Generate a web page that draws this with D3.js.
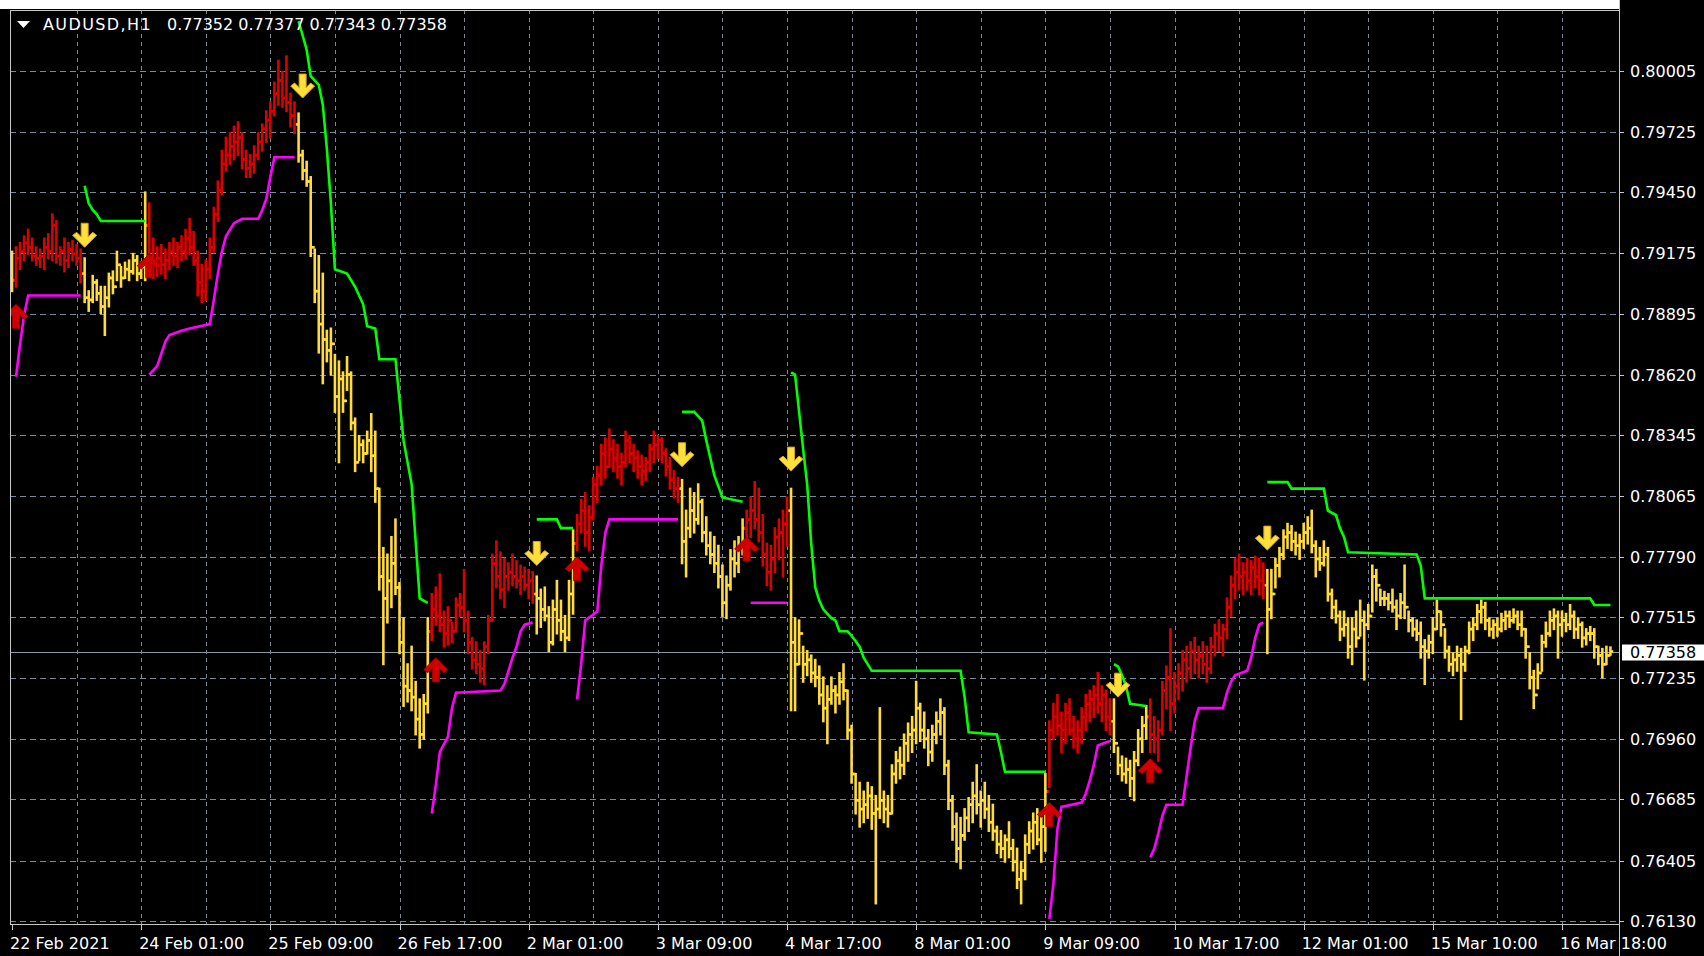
<!doctype html>
<html>
<head>
<meta charset="utf-8">
<script src="https://cdnjs.cloudflare.com/ajax/libs/d3/7.8.5/d3.min.js"></script>
<style>
  html, body { margin: 0; padding: 0; background: #000; }
  svg { display: block; }
  text { font-family: "DejaVu Sans", sans-serif; font-size: 16px; fill: #fff; }
</style>
</head>
<body>
<svg id="chart" width="1704" height="956"></svg>
<script>
// price grid / axis labels
const priceTicks = [0.80005, 0.79725, 0.79450, 0.79175, 0.78895, 0.78620, 0.78345,
  0.78065, 0.77790, 0.77515, 0.77235, 0.76960, 0.76685, 0.76405, 0.76130]
// time labels, one every 32 H1 bars
const timeLabels = ["22 Feb 2021", "24 Feb 01:00", "25 Feb 09:00", "26 Feb 17:00", "2 Mar 01:00",
  "3 Mar 09:00", "4 Mar 17:00", "8 Mar 01:00", "9 Mar 09:00", "10 Mar 17:00", "12 Mar 01:00",
  "15 Mar 10:00", "16 Mar 18:00"]
const lastQuote = [0.77352, 0.77377, 0.77343, 0.77358]

// H1 bars, left to right
const highs = [
  0.7918,0.7920,0.7922,0.7925,0.7928,0.7924,0.7920,0.7919,0.7924,0.7926,
  0.7935,0.7932,0.7920,0.7924,0.7922,0.7923,0.7921,0.7919,0.7915,0.7900,
  0.7907,0.7905,0.7902,0.7902,0.7908,0.7909,0.7918,0.7911,0.7913,0.7914,
  0.7917,0.7916,0.7913,0.7945,0.7940,0.7924,0.7920,0.7921,0.7919,0.7922,
  0.7924,0.7922,0.7925,0.7928,0.7933,0.7927,0.7918,0.7912,0.7914,0.7924,
  0.7938,0.7950,0.7964,0.7970,0.7972,0.7975,0.7977,0.7972,0.7964,0.7962,
  0.7966,0.7972,0.7976,0.7982,0.7986,0.7995,0.8005,0.8000,0.8007,0.7990,
  0.7986,0.7981,0.7964,0.7959,0.7952,0.7919,0.7916,0.7908,0.7882,0.7883,
  0.7871,0.7868,0.7863,0.7870,0.7863,0.7842,0.7834,0.7832,0.7836,0.7844,
  0.7836,0.7810,0.7783,0.7780,0.7788,0.7796,0.7767,0.7751,0.7730,0.7738,
  0.7722,0.7714,0.7716,0.7751,0.7762,0.7765,0.7771,0.7754,0.7756,0.7749,
  0.7760,0.7762,0.7773,0.7754,0.7742,0.7740,0.7736,0.7740,0.7752,0.7780,
  0.7786,0.7781,0.7778,0.7776,0.7780,0.7777,0.7775,0.7774,0.7773,0.7772,
  0.7770,0.7764,0.7765,0.7756,0.7759,0.7768,0.7759,0.7752,0.7768,0.7791,
  0.7798,0.7805,0.7808,0.7802,0.7815,0.7820,0.7830,0.7833,0.7837,0.7832,
  0.7830,0.7826,0.7836,0.7834,0.7830,0.7827,0.7825,0.7824,0.7830,0.7836,
  0.7834,0.7833,0.7828,0.7824,0.7818,0.7815,0.7814,0.7800,0.7810,0.7808,
  0.7812,0.7805,0.7797,0.7790,0.7788,0.7784,0.7775,0.7770,0.7782,0.7786,
  0.7788,0.7796,0.7800,0.7806,0.7813,0.7810,0.7798,0.7785,0.7784,0.7792,
  0.7796,0.7800,0.7806,0.7810,0.7751,0.7750,0.7738,0.7736,0.7734,0.7732,
  0.7729,0.7724,0.7720,0.7724,0.7720,0.7726,0.7730,0.7718,0.7702,0.7680,
  0.7676,0.7672,0.7676,0.7674,0.7670,0.7710,0.7672,0.7670,0.7684,0.7690,
  0.7692,0.7698,0.7703,0.7706,0.7722,0.7712,0.7708,0.7700,0.7702,0.7708,
  0.7714,0.7710,0.7686,0.7670,0.7662,0.7660,0.7664,0.7669,0.7676,0.7684,
  0.7672,0.7676,0.7670,0.7666,0.7656,0.7654,0.7652,0.7658,0.7650,0.7646,
  0.7640,0.7652,0.7658,0.7662,0.7664,0.7660,0.7680,0.7704,0.7712,0.7716,
  0.7708,0.7712,0.7714,0.7706,0.7704,0.7710,0.7716,0.7718,0.7720,0.7726,
  0.7720,0.7718,0.7714,0.7714,0.7692,0.7688,0.7687,0.7686,0.7690,0.7700,
  0.7706,0.7711,0.7714,0.7706,0.7704,0.7722,0.7729,0.7746,0.7726,0.7730,
  0.7736,0.7738,0.7740,0.7742,0.7738,0.7740,0.7738,0.7742,0.7748,0.7750,
  0.7748,0.7760,0.7770,0.7778,0.7780,0.7776,0.7778,0.7777,0.7779,0.7778,
  0.7776,0.7773,0.7773,0.7778,0.7783,0.7791,0.7794,0.7793,0.7790,0.7789,
  0.7794,0.7797,0.7800,0.7786,0.7783,0.7786,0.7783,0.7764,0.7759,0.7754,
  0.7754,0.7751,0.7751,0.7754,0.7759,0.7754,0.7757,0.7775,0.7773,0.7764,
  0.7763,0.7762,0.7764,0.7759,0.7762,0.7775,0.7754,0.7751,0.7750,0.7749,
  0.7741,0.7743,0.7751,0.7759,0.7754,0.7746,0.7738,0.7735,0.7738,0.7737,
  0.7738,0.7749,0.7751,0.7757,0.7759,0.7758,0.7751,0.7750,0.7751,0.7753,
  0.7754,0.7754,0.7755,0.7754,0.7754,0.7746,0.7735,0.7727,0.7730,0.7743,
  0.7749,0.7754,0.7755,0.7754,0.7754,0.7753,0.7757,0.7754,0.7751,0.7749,
  0.7746,0.7747,0.7746,0.7738,0.7737,0.7738,0.77377]
const lows = [
  0.7900,0.7902,0.7910,0.7914,0.7917,0.7914,0.7912,0.7911,0.7910,0.7915,
  0.7914,0.7913,0.7912,0.7909,0.7911,0.7914,0.7912,0.7904,0.7895,0.7891,
  0.7895,0.7896,0.7890,0.7880,0.7893,0.7899,0.7905,0.7902,0.7906,0.7905,
  0.7908,0.7905,0.7906,0.7905,0.7910,0.7906,0.7907,0.7908,0.7906,0.7910,
  0.7912,0.7911,0.7914,0.7915,0.7917,0.7912,0.7898,0.7895,0.7896,0.7906,
  0.7918,0.7932,0.7944,0.7955,0.7958,0.7960,0.7962,0.7956,0.7952,0.7952,
  0.7954,0.7960,0.7964,0.7968,0.7970,0.7980,0.7985,0.7984,0.7982,0.7975,
  0.7972,0.7959,0.7951,0.7948,0.7916,0.7895,0.7872,0.7858,0.7868,0.7862,
  0.7845,0.7822,0.7845,0.7855,0.7837,0.7818,0.7823,0.7822,0.7826,0.7818,
  0.7804,0.7764,0.7730,0.7749,0.7756,0.7762,0.7735,0.7711,0.7713,0.7709,
  0.7698,0.7692,0.7696,0.7708,0.7741,0.7748,0.7745,0.7738,0.7739,0.7740,
  0.7745,0.7752,0.7745,0.7735,0.7728,0.7726,0.7722,0.7721,0.7735,0.7750,
  0.7765,0.7760,0.7756,0.7764,0.7766,0.7765,0.7762,0.7764,0.7760,0.7758,
  0.7744,0.7747,0.7750,0.7736,0.7739,0.7744,0.7741,0.7736,0.7741,0.7753,
  0.7782,0.7790,0.7784,0.7782,0.7796,0.7804,0.7812,0.7815,0.7820,0.7818,
  0.7815,0.7812,0.7820,0.7822,0.7818,0.7815,0.7812,0.7814,0.7818,0.7822,
  0.7824,0.7822,0.7816,0.7810,0.7806,0.7804,0.7776,0.7770,0.7788,0.7790,
  0.7794,0.7786,0.7780,0.7776,0.7772,0.7765,0.7752,0.7751,0.7764,0.7770,
  0.7772,0.7780,0.7782,0.7788,0.7792,0.7786,0.7775,0.7766,0.7764,0.7772,
  0.7778,0.7770,0.7784,0.7709,0.7709,0.7730,0.7722,0.7725,0.7722,0.7720,
  0.7712,0.7704,0.7694,0.7712,0.7708,0.7712,0.7714,0.7696,0.7676,0.7662,
  0.7656,0.7658,0.7660,0.7655,0.7621,0.7660,0.7658,0.7656,0.7662,0.7676,
  0.7678,0.7680,0.7686,0.7690,0.7694,0.7695,0.7692,0.7684,0.7686,0.7694,
  0.7698,0.7680,0.7664,0.7650,0.7640,0.7637,0.7650,0.7654,0.7658,0.7662,
  0.7656,0.7660,0.7654,0.7650,0.7644,0.7642,0.7640,0.7642,0.7636,0.7628,
  0.7621,0.7632,0.7644,0.7646,0.7648,0.7640,0.7645,0.7674,0.7696,0.7698,
  0.7690,0.7694,0.7698,0.7692,0.7690,0.7694,0.7700,0.7704,0.7706,0.7708,
  0.7704,0.7700,0.7698,0.7690,0.7680,0.7677,0.7676,0.7670,0.7668,0.7684,
  0.7690,0.7696,0.7690,0.7690,0.7686,0.7698,0.7710,0.7700,0.7708,0.7714,
  0.7718,0.7722,0.7724,0.7726,0.7724,0.7726,0.7722,0.7726,0.7734,0.7736,
  0.7734,0.7742,0.7752,0.7760,0.7764,0.7762,0.7764,0.7762,0.7765,0.7762,
  0.7760,0.7735,0.7751,0.7765,0.7770,0.7778,0.7783,0.7782,0.7780,0.7778,
  0.7783,0.7785,0.7781,0.7770,0.7773,0.7775,0.7759,0.7751,0.7749,0.7741,
  0.7743,0.7733,0.7730,0.7738,0.7743,0.7723,0.7746,0.7754,0.7759,0.7757,
  0.7757,0.7755,0.7754,0.7746,0.7751,0.7751,0.7745,0.7743,0.7741,0.7733,
  0.7721,0.7733,0.7735,0.7746,0.7743,0.7733,0.7727,0.7725,0.7727,0.7705,
  0.7727,0.7735,0.7741,0.7746,0.7749,0.7746,0.7743,0.7742,0.7743,0.7745,
  0.7746,0.7747,0.7749,0.7746,0.7743,0.7733,0.7719,0.7710,0.7719,0.7727,
  0.7738,0.7743,0.7746,0.7733,0.7743,0.7745,0.7746,0.7742,0.7742,0.7738,
  0.7739,0.7741,0.7733,0.7730,0.7724,0.7730,0.77343]
const closes = [
  0.7905,0.7915,0.7918,0.7922,0.7920,0.7916,0.7915,0.7916,0.7920,0.7918,
  0.7930,0.7916,0.7918,0.7914,0.7919,0.7917,0.7915,0.7908,0.7897,0.7896,
  0.7904,0.7899,0.7893,0.7897,0.7906,0.7902,0.7912,0.7906,0.7910,0.7909,
  0.7914,0.7908,0.7911,0.7930,0.7915,0.7912,0.7915,0.7912,0.7914,0.7918,
  0.7916,0.7920,0.7918,0.7924,0.7920,0.7914,0.7904,0.7900,0.7910,0.7920,
  0.7935,0.7946,0.7958,0.7962,0.7966,0.7968,0.7970,0.7960,0.7956,0.7958,
  0.7962,0.7968,0.7974,0.7978,0.7982,0.7990,0.7996,0.7988,0.7986,0.7980,
  0.7976,0.7962,0.7955,0.7950,0.7920,0.7900,0.7885,0.7878,0.7873,0.7876,
  0.7852,0.7860,0.7850,0.7862,0.7840,0.7822,0.7830,0.7826,0.7832,0.7825,
  0.7810,0.7770,0.7760,0.7768,0.7776,0.7765,0.7740,0.7720,0.7718,0.7715,
  0.7705,0.7698,0.7712,0.7745,0.7755,0.7752,0.7748,0.7744,0.7750,0.7745,
  0.7757,0.7756,0.7750,0.7740,0.7732,0.7730,0.7728,0.7738,0.7750,0.7776,
  0.7770,0.7764,0.7770,0.7772,0.7770,0.7768,0.7770,0.7766,0.7768,0.7762,
  0.7760,0.7755,0.7752,0.7740,0.7755,0.7750,0.7745,0.7742,0.7762,0.7785,
  0.7794,0.7800,0.7790,0.7797,0.7812,0.7816,0.7826,0.7820,0.7828,0.7824,
  0.7820,0.7822,0.7832,0.7826,0.7824,0.7820,0.7818,0.7822,0.7828,0.7830,
  0.7832,0.7826,0.7820,0.7814,0.7810,0.7810,0.7786,0.7792,0.7800,0.7796,
  0.7804,0.7790,0.7784,0.7780,0.7776,0.7770,0.7758,0.7766,0.7778,0.7776,
  0.7784,0.7792,0.7796,0.7800,0.7796,0.7790,0.7780,0.7772,0.7778,0.7788,
  0.7790,0.7794,0.7800,0.7740,0.7730,0.7744,0.7730,0.7732,0.7726,0.7724,
  0.7716,0.7710,0.7714,0.7718,0.7716,0.7722,0.7718,0.7700,0.7680,0.7668,
  0.7664,0.7666,0.7670,0.7662,0.7664,0.7668,0.7664,0.7662,0.7680,0.7686,
  0.7684,0.7694,0.7698,0.7700,0.7710,0.7700,0.7696,0.7690,0.7698,0.7704,
  0.7708,0.7684,0.7668,0.7656,0.7646,0.7652,0.7660,0.7666,0.7670,0.7666,
  0.7668,0.7664,0.7658,0.7654,0.7648,0.7646,0.7650,0.7646,0.7640,0.7632,
  0.7636,0.7648,0.7654,0.7658,0.7650,0.7656,0.7672,0.7700,0.7706,0.7702,
  0.7700,0.7708,0.7700,0.7696,0.7700,0.7706,0.7712,0.7714,0.7716,0.7712,
  0.7716,0.7706,0.7704,0.7694,0.7684,0.7680,0.7682,0.7678,0.7686,0.7696,
  0.7702,0.7706,0.7698,0.7696,0.7700,0.7718,0.7724,0.7712,0.7720,0.7726,
  0.7732,0.7728,0.7736,0.7732,0.7734,0.7730,0.7728,0.7738,0.7744,0.7742,
  0.7746,0.7756,0.7766,0.7772,0.7770,0.7772,0.7768,0.7774,0.7770,0.7768,
  0.7766,0.7755,0.7762,0.7775,0.7780,0.7788,0.7790,0.7786,0.7784,0.7786,
  0.7790,0.7792,0.7784,0.7778,0.7776,0.7780,0.7762,0.7756,0.7752,0.7746,
  0.7748,0.7738,0.7746,0.7742,0.7750,0.7748,0.7752,0.7770,0.7766,0.7760,
  0.7760,0.7758,0.7756,0.7752,0.7758,0.7756,0.7750,0.7746,0.7744,0.7738,
  0.7736,0.7740,0.7746,0.7754,0.7748,0.7736,0.7730,0.7732,0.7734,0.7730,
  0.7736,0.7746,0.7748,0.7754,0.7756,0.7750,0.7746,0.7748,0.7746,0.7750,
  0.7752,0.7750,0.7752,0.7748,0.7746,0.7738,0.7724,0.7716,0.7726,0.7740,
  0.7744,0.7750,0.7752,0.7748,0.7750,0.7748,0.7752,0.7746,0.7748,0.7742,
  0.7744,0.7744,0.7738,0.7734,0.7730,0.7734,0.77358]

// bar ranges where the indicator is in up trend (red bars); others are down (yellow)
const upTrendRanges = [[1, 17], [34, 70], [104, 129], [140, 165], [182, 192], [257, 272], [282, 310]]

// upper trailing stop (green) pieces: [bar, price]
const greenSegments = [
  [[18,0.7948],[19,0.7940],[20,0.7937],[21,0.7935],[22,0.7932],[33,0.7932]],
  [[71,0.8023],[73,0.8010],[74,0.7998],[76,0.7994],[77,0.7985],[78,0.7965],[79,0.7940],[80,0.7910],
   [83,0.7908],[85,0.7902],[87,0.7894],[88,0.7884],[90,0.7883],[91,0.7869],[95,0.7869],[97,0.7832],
   [99,0.7812],[101,0.7760],[103,0.7758]],
  [[130,0.7796],[135,0.7796],[136,0.7792],[139,0.7792]],
  [[166,0.7845],[169,0.7845],[171,0.7841],[172,0.7832],[173,0.7824],[174,0.7816],[176,0.7806],[181,0.7804]],
  [[193,0.7863],[194,0.7862],[195,0.7845],[196,0.7828],[197,0.7812],[198,0.7785],[199,0.7765],[200,0.7759],
   [201,0.7755],[203,0.7751],[204,0.7750],[205,0.7745],[207,0.7745],[208,0.7743],[210,0.7738],[211,0.7733],
   [213,0.7727],[235,0.7727],[236,0.7715],[237,0.7699],[244,0.7698],[245,0.7690],[246,0.7681],[256,0.7681]],
  [[273,0.7730],[274,0.7729],[275,0.7725],[276,0.7720],[277,0.7712],[281,0.7711]],
  [[311,0.7813],[316,0.7813],[317,0.7810],[325,0.7810],[326,0.7800],[328,0.7798],[329,0.7792],[330,0.7788],
   [331,0.7781],[348,0.7780],[349,0.7775],[350,0.7760],[391,0.7760],[392,0.7757],[396,0.7757]]
]
// lower trailing stop (magenta) pieces: [bar, price]
const magentaSegments = [
  [[1,0.7861],[2,0.7876],[3,0.7889],[4,0.7898],[17,0.7898]],
  [[34,0.7862],[36,0.7866],[38,0.7877],[39,0.7880],[42,0.7882],[44,0.7883],[49,0.7885],[50,0.7896],
   [51,0.7908],[52,0.7918],[53,0.7925],[55,0.7931],[57,0.7933],[61,0.7933],[62,0.7937],[63,0.7942],
   [64,0.7952],[65,0.7961],[70,0.7961]],
  [[104,0.7662],[105,0.7675],[106,0.7690],[108,0.7697],[109,0.7710],[110,0.7717],[121,0.7718],[122,0.7721],
   [123,0.7727],[124,0.7733],[125,0.7738],[126,0.7745],[127,0.7748],[129,0.7749]],
  [[140,0.7714],[141,0.7730],[142,0.7750],[145,0.7754],[146,0.7775],[147,0.7790],[148,0.7796],[165,0.7796]],
  [[183,0.7758],[192,0.7758]],
  [[257,0.7614],[258,0.7630],[259,0.7655],[260,0.7665],[265,0.7667],[266,0.7671],[267,0.7677],[268,0.7684],
   [269,0.7693],[272,0.7695]],
  [[282,0.7642],[283,0.7646],[284,0.7653],[285,0.7661],[286,0.7666],[290,0.7666],[291,0.7679],[292,0.7692],
   [293,0.7704],[294,0.7710],[300,0.7710],[301,0.7717],[302,0.7722],[303,0.7725],[306,0.7727],[307,0.7733],
   [308,0.7742],[309,0.7748],[310,0.7749]]
]
// signal arrows: bar and tip price
const upArrowBars = [1, 34, 105, 140, 182, 257, 282]
const upArrowPrices = [0.7894, 0.7917, 0.7733, 0.7779, 0.7788, 0.7667, 0.7687]
const downArrowBars = [18, 72, 130, 166, 193, 274, 311]
const downArrowPrices = [0.7920, 0.7988, 0.7775, 0.7820, 0.7818, 0.7715, 0.7782]

const W = 1704, H = 956
const plot = {left: 10, right: 1619, top: 10, bottom: 924}
const gridColor = "#778899", red = "#dc0000", yellow = "#ffdc38"

const svg = d3.select("#chart")
svg.append("rect").attr("width", W).attr("height", H).attr("fill", "#000")
svg.append("rect").attr("x", 0).attr("y", 0).attr("width", plot.right).attr("height", plot.top - 1).attr("fill", "#fff")

const x = d3.scaleLinear().domain([0, 384]).range([12, 1562])
const y = d3.scaleLinear().domain([0.76130, 0.80005]).range([921, 70.6])

svg.append("clipPath").attr("id", "clip").append("rect")
  .attr("x", plot.left).attr("y", plot.top)
  .attr("width", plot.right - plot.left).attr("height", plot.bottom - plot.top)

// grid
const grid = svg.append("g").attr("stroke", gridColor).attr("stroke-width", 1).attr("shape-rendering", "crispEdges")
grid.selectAll("line.h").data(priceTicks).enter().append("line")
  .attr("x1", plot.left).attr("x2", plot.right)
  .attr("y1", d => Math.round(y(d)) + 0.5).attr("y2", d => Math.round(y(d)) + 0.5)
  .attr("stroke-dasharray", "6,4")
const vBars = d3.range(16, 397, 16)
grid.selectAll("line.v").data(vBars).enter().append("line")
  .attr("x1", d => Math.round(x(d)) + 0.5).attr("x2", d => Math.round(x(d)) + 0.5)
  .attr("y1", plot.top).attr("y2", plot.bottom)
  .attr("stroke-dasharray", "4,4")

// current price line
svg.append("line").attr("x1", plot.left).attr("x2", plot.right)
  .attr("y1", Math.round(y(lastQuote[3])) + 0.5).attr("y2", Math.round(y(lastQuote[3])) + 0.5)
  .attr("stroke", "#8c9aa8").attr("stroke-width", 1.2)

const body = svg.append("g").attr("clip-path", "url(#clip)")

// bars
const isUp = i => upTrendRanges.some(r => i >= r[0] && i <= r[1])
const bars = body.append("g")
highs.forEach((h, i) => {
  const c = isUp(i) ? red : yellow
  const cx = x(i)
  const open = i > 0 ? closes[i - 1] : closes[i]
  const g = bars.append("g").attr("stroke", c).attr("stroke-width", 2.6)
  g.append("line").attr("x1", cx).attr("x2", cx).attr("y1", y(lows[i]) + 1).attr("y2", y(h) - 1)
  g.append("line").attr("x1", cx - 2.5).attr("x2", cx).attr("y1", y(open)).attr("y2", y(open))
  g.append("line").attr("x1", cx).attr("x2", cx + 2.8).attr("y1", y(closes[i])).attr("y2", y(closes[i]))
})

// trailing stop lines
const line = d3.line().x(d => x(d[0])).y(d => y(d[1]))
body.selectAll("path.green").data(greenSegments).enter().append("path")
  .attr("d", line).attr("fill", "none").attr("stroke", "#00ff00").attr("stroke-width", 2.6)
body.selectAll("path.magenta").data(magentaSegments).enter().append("path")
  .attr("d", line).attr("fill", "none").attr("stroke", "#ff00ff").attr("stroke-width", 2.6)

// arrows
const downShape = "M0,0 L-12,-12 L-8,-15 L-3.5,-10.5 L-3.5,-24 L3.5,-24 L3.5,-10.5 L8,-15 L12,-12 Z"
const upShape = "M0,0 L-12,12 L-8,15 L-3.5,10.5 L-3.5,24 L3.5,24 L3.5,10.5 L8,15 L12,12 Z"
upArrowBars.forEach((b, k) => {
  body.append("path").attr("d", upShape)
    .attr("transform", `translate(${x(b)},${y(upArrowPrices[k])})`)
    .attr("fill", "#d00000").attr("stroke", "#a00000").attr("stroke-width", 1)
})
downArrowBars.forEach((b, k) => {
  body.append("path").attr("d", downShape)
    .attr("transform", `translate(${x(b)},${y(downArrowPrices[k])})`)
    .attr("fill", "#ffdf3a").attr("stroke", "#d4a020").attr("stroke-width", 1)
})

// frame
const frame = svg.append("g").attr("stroke", "#c8c8c8").attr("shape-rendering", "crispEdges")
frame.append("line").attr("x1", plot.left + 0.5).attr("x2", plot.left + 0.5).attr("y1", plot.top).attr("y2", plot.bottom)
frame.append("line").attr("x1", plot.left).attr("x2", plot.right).attr("y1", plot.top + 0.5).attr("y2", plot.top + 0.5)
frame.append("line").attr("x1", plot.right + 0.5).attr("x2", plot.right + 0.5).attr("y1", 0).attr("y2", H)
frame.append("line").attr("x1", plot.left).attr("x2", plot.right).attr("y1", plot.bottom + 0.5).attr("y2", plot.bottom + 0.5)

// price axis
const pAxis = svg.append("g")
pAxis.selectAll("line").data(priceTicks).enter().append("line")
  .attr("x1", plot.right).attr("x2", plot.right + 5)
  .attr("y1", d => Math.round(y(d)) + 0.5).attr("y2", d => Math.round(y(d)) + 0.5)
  .attr("stroke", "#c8c8c8")
pAxis.selectAll("text").data(priceTicks).enter().append("text")
  .attr("x", 1630).attr("y", d => y(d) + 6)
  .text(d => d.toFixed(5))

// current price tag
svg.append("rect").attr("x", 1622).attr("y", y(lastQuote[3]) - 7).attr("width", 82).attr("height", 16).attr("fill", "#fff")
svg.append("text").attr("x", 1630).attr("y", y(lastQuote[3]) + 6).style("fill", "#000").text(lastQuote[3].toFixed(5))

// time axis
const tAxis = svg.append("g")
tAxis.selectAll("line").data(timeLabels).enter().append("line")
  .attr("x1", (d, i) => Math.round(x(i * 32)) + 0.5).attr("x2", (d, i) => Math.round(x(i * 32)) + 0.5)
  .attr("y1", plot.bottom).attr("y2", plot.bottom + 6)
  .attr("stroke", "#c8c8c8")
tAxis.selectAll("text").data(timeLabels).enter().append("text")
  .attr("x", (d, i) => x(i * 32) - 2).attr("y", 949)
  .text(d => d)

// title
svg.append("path").attr("d", "M17,21 L30,21 L23.5,28 Z").attr("fill", "#fff")
svg.append("text").attr("x", 43).attr("y", 30).attr("letter-spacing", 1.4).text("AUDUSD,H1")
svg.append("text").attr("x", 167).attr("y", 30).text(lastQuote.map(v => v.toFixed(5)).join(" "))
</script>
</body>
</html>
